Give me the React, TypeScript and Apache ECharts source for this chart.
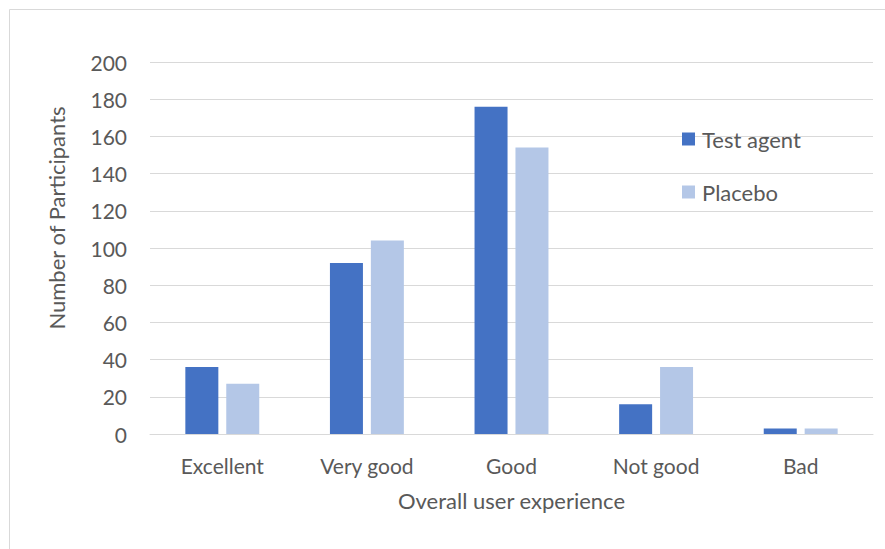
import React, { useEffect, useRef } from "react";
import * as echarts from "echarts";

const categories = ["Excellent", "Very good", "Good", "Not good", "Bad"];
const testAgent = [36, 92, 176, 16, 3];
const placebo = [27, 104, 154, 36, 3];
const seriesNames = ["Test agent", "Placebo"];
const yTicks = { min: 0, max: 200, interval: 20 };

const FONT = "Lato, 'Open Sans', sans-serif";
const TXT = "#595959";

export default function App() {
  const ref = useRef<HTMLDivElement>(null);
  useEffect(() => {
    const chart = echarts.init(ref.current!, null, { renderer: "svg" });
    chart.setOption({
      animation: false,
      textStyle: { fontFamily: FONT },
      grid: { left: 150, right: 12, top: 62, bottom: 115 },
      legend: {
        orient: "vertical",
        left: 677,
        top: 123,
        itemWidth: 13,
        itemHeight: 13,
        itemGap: 31,
        icon: "rect",
        textStyle: { color: TXT, fontSize: 22, fontFamily: FONT, padding: [0, 0, 0, 2] },
        data: seriesNames,
      },
      graphic: [
        {
          type: "rect",
          shape: { x: 9.5, y: 9.5, width: 1000, height: 1000 },
          style: { fill: "none", stroke: "#D9D9D9", lineWidth: 1 },
        },
        {
          type: "text",
          x: 56,
          y: 218,
          rotation: Math.PI / 2,
          style: {
            text: "Number of Participants",
            fill: TXT,
            font: `22px ${FONT}`,
            align: "center",
            verticalAlign: "middle",
          },
        },
      ],
      xAxis: {
        type: "category",
        data: categories,
        name: "Overall user experience",
        nameLocation: "middle",
        nameGap: 55,
        nameTextStyle: { color: TXT, fontSize: 22, fontFamily: FONT },
        axisLine: { lineStyle: { color: "#D9D9D9", width: 1 } },
        axisTick: { show: false },
        axisLabel: { color: TXT, fontSize: 21, margin: 21, fontFamily: FONT },
      },
      yAxis: {
        type: "value",
        min: yTicks.min,
        max: yTicks.max,
        interval: yTicks.interval,
        axisLine: { show: false },
        axisTick: { show: false },
        splitLine: { lineStyle: { color: "#D9D9D9", width: 1 } },
        axisLabel: { color: TXT, fontSize: 21, margin: 23, fontFamily: FONT },
      },
      series: [
        {
          name: seriesNames[0],
          type: "bar",
          data: testAgent,
          barWidth: 33,
          barGap: "24%",
          itemStyle: { color: "#4472C4" },
        },
        {
          name: seriesNames[1],
          type: "bar",
          data: placebo,
          barWidth: 33,
          itemStyle: { color: "#B4C7E7" },
        },
      ],
    });
    return () => chart.dispose();
  }, []);
  return (
    <div
      ref={ref}
      style={{ position: "fixed", left: 0, top: 0, width: 885, height: 549, background: "#fff" }}
    />
  );
}
